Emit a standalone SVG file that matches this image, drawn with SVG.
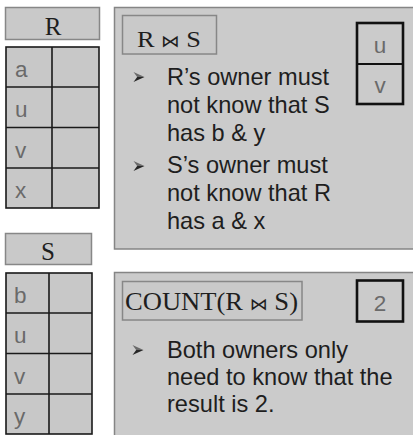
<svg xmlns="http://www.w3.org/2000/svg" width="413" height="435" viewBox="0 0 413 435">
  <style>
    .panel { fill: #cbcbcb; stroke: #858585; stroke-width: 1.5; }
    .hdr { fill: #c9c9c9; stroke: #878787; stroke-width: 1.5; }
    .cell { fill: #c8c8c8; stroke: #1a1a1a; stroke-width: 1.6; }
    .thick { fill: #cbcbcb; stroke: #111; stroke-width: 2.6; }
    .serif { font-family: "Liberation Serif", "Times New Roman", serif; fill: #1e1e1e; }
    .sans { font-family: "Liberation Sans", Arial, sans-serif; font-size: 23.6px; fill: #1e1e1e; }
    .val { font-family: "Liberation Sans", Arial, sans-serif; font-size: 22.5px; fill: #6a6a6a; }
    .bow { font-family: "DejaVu Sans", sans-serif; }
  </style>
  <defs>
    <!-- arrowhead bullet -->
    <g id="bullet">
      <path d="M-5.5,-5 L5.5,0 L-1.8,0 Z" fill="#6a6a6a"/>
      <path d="M-5.5,5 L5.5,0 L-1.8,0 Z" fill="#262626"/>
    </g>
  </defs>

  <rect width="413" height="435" fill="#ffffff"/>

  <!-- relation R -->
  <g id="table-r">
    <rect class="hdr" x="5.5" y="7.5" width="94" height="32"/>
    <text class="serif" x="53" y="35" font-size="25" text-anchor="middle">R</text>
    <rect class="cell" x="6" y="47" width="93" height="161"/>
    <line x1="52" y1="47" x2="52" y2="208" stroke="#1a1a1a" stroke-width="1.6"/>
    <line x1="6" y1="87" x2="99" y2="87" stroke="#1a1a1a" stroke-width="1.6"/>
    <line x1="6" y1="127.5" x2="99" y2="127.5" stroke="#1a1a1a" stroke-width="1.6"/>
    <line x1="6" y1="168" x2="99" y2="168" stroke="#1a1a1a" stroke-width="1.6"/>
    <text class="val" x="15" y="77">a</text>
    <text class="val" x="15" y="117">u</text>
    <text class="val" x="15" y="158">v</text>
    <text class="val" x="15" y="198">x</text>
  </g>

  <!-- relation S -->
  <g id="table-s">
    <rect class="hdr" x="5.5" y="233.5" width="86" height="31"/>
    <text class="serif" x="48" y="260" font-size="25" text-anchor="middle">S</text>
    <rect class="cell" x="6" y="273" width="86" height="161"/>
    <line x1="49" y1="273" x2="49" y2="434" stroke="#1a1a1a" stroke-width="1.6"/>
    <line x1="6" y1="313" x2="92" y2="313" stroke="#1a1a1a" stroke-width="1.6"/>
    <line x1="6" y1="353.5" x2="92" y2="353.5" stroke="#1a1a1a" stroke-width="1.6"/>
    <line x1="6" y1="394" x2="92" y2="394" stroke="#1a1a1a" stroke-width="1.6"/>
    <text class="val" x="14" y="303">b</text>
    <text class="val" x="14" y="343">u</text>
    <text class="val" x="14" y="384">v</text>
    <text class="val" x="14" y="424">y</text>
  </g>

  <!-- join panel -->
  <g id="join-panel">
    <rect class="panel" x="114.5" y="7.5" width="310" height="241.5"/>
    <rect class="hdr" x="122.5" y="15.5" width="94" height="38.5"/>
    <text class="serif" x="137" y="46.5" font-size="24" textLength="64" lengthAdjust="spacingAndGlyphs">R <tspan class="bow" font-size="17">⋈</tspan> S</text>
    <rect class="thick" x="357" y="23" width="46" height="81"/>
    <line x1="357" y1="64" x2="403" y2="64" stroke="#111" stroke-width="2.2"/>
    <text class="val" x="380" y="53" text-anchor="middle" fill="#777" font-size="24">u</text>
    <text class="val" x="380" y="93" text-anchor="middle" fill="#777" font-size="24">v</text>
    <use href="#bullet" x="139" y="77"/>
    <text class="sans" x="167" y="85">R’s owner must</text>
    <text class="sans" x="167" y="113">not know that S</text>
    <text class="sans" x="167" y="141">has b &amp; y</text>
    <use href="#bullet" x="139" y="166"/>
    <text class="sans" x="167" y="173">S’s owner must</text>
    <text class="sans" x="167" y="201">not know that R</text>
    <text class="sans" x="167" y="229">has a &amp; x</text>
  </g>

  <!-- count panel -->
  <g id="count-panel">
    <rect class="panel" x="114.5" y="272.5" width="310" height="170"/>
    <rect class="hdr" x="122.5" y="281.5" width="179.5" height="38.5"/>
    <text class="serif" x="125" y="309.5" font-size="25" textLength="173" lengthAdjust="spacingAndGlyphs">COUNT(R <tspan class="bow" font-size="17">⋈</tspan> S)</text>
    <rect class="thick" x="357" y="280.5" width="46" height="41"/>
    <text class="val" x="380" y="310.5" text-anchor="middle" fill="#5a5a5a" font-size="24">2</text>
    <use href="#bullet" x="138" y="350"/>
    <text class="sans" x="167" y="358">Both owners only</text>
    <text class="sans" x="167" y="385">need to know that the</text>
    <text class="sans" x="167" y="412">result is 2.</text>
  </g>
</svg>
